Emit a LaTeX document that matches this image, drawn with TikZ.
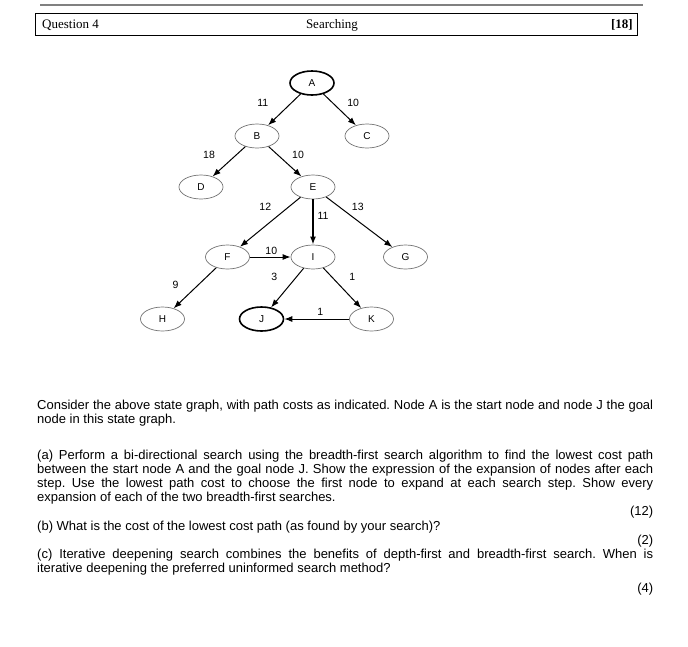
\documentclass[tikz,border=0pt]{standalone}
\usepackage{fontspec}
\usepackage{tikz}
\usetikzlibrary{shapes.geometric, arrows.meta}
\newfontfamily\arialfont{Liberation Sans}
\newfontfamily\bookfont{Liberation Serif}
\newcommand*{\statefont}{\arialfont\fontsize{10}{12}\selectfont}
\newcommand*{\costfont}{\arialfont\fontsize{10.5}{12}\selectfont}
\newcommand*{\questfont}{\arialfont\fontsize{13}{14.2}\selectfont\frenchspacing}

\begin{document}
\begin{tikzpicture}
[
    x = 1pt, y = -1pt,
    level 1/.style={sibling distance=110pt, level distance=53pt},
    level 2/.style={sibling distance=112pt, level distance=51pt},
    level 3/.style={sibling distance=89pt, level distance=70pt},
    level 4/.style={level distance=62pt},
    state/.style={ellipse, draw=black!55, line width=0.7pt, minimum width=44pt, minimum height=24pt, inner sep=0pt, font=\statefont},
    goal/.style={state, draw=black, line width=1.6pt},
    arrow/.style={draw, -{Latex[length=8pt, width=6pt]}, line width=1pt},
    cost/.style={font=\costfont, inner sep=1pt},
    edge from parent/.style={arrow},
    head/.style={font=\bookfont\fontsize{13}{15}\selectfont, inner sep=0pt},
    qtext/.style={anchor=north west, text width=616pt, align=justify, inner sep=0pt, font=\questfont},
]
\useasboundingbox (0,0) rectangle (688,646);

% header of the question
\draw[black!50, line width=1.5pt] (40,5) -- (643,5);
\draw[line width=0.8pt] (35,13) rectangle (637,35);
\node[head, anchor=base west] (qnum) at (42,28) {Question 4};
\node[head, anchor=base] (topic) at (332,28) {Searching};
\node[head, anchor=base east] (marks) at (633,28) {\bfseries [18]};

% the state graph
\node[goal] (A) at (312,83) {A}
	child {node[state] (B) {B}
		child {node[state] (D) {D}
		edge from parent node[cost, xshift=-20pt, yshift=6.5pt] {18}
			}
		child {node[state] (E) {E}
			child[xshift=3.5pt] {node[state] (F) {F} [sibling distance=130pt]
				child {node[state] (H) {H}
				edge from parent node[cost, xshift=-19.5pt, yshift=3pt] {9}
					}
				child[missing]
			edge from parent node[cost, xshift=-5pt, yshift=15pt] {12}
				}
			child {node[state] (I) {I} [sibling distance=110pt]
				child[xshift=3.5pt] {node[goal] (J) {J}
				edge from parent node[cost, xshift=-13pt, yshift=11pt] {3}
					}
				child[xshift=3.5pt] {node[state] (K) {K}
				edge from parent node[cost, xshift=10pt, yshift=11pt] {1}
					}
			edge from parent[line width=1.6pt] node[cost, xshift=10pt, yshift=6pt] {11}
				}
			child[xshift=3.5pt] {node[state] (G) {G}
			edge from parent node[cost, xshift=-1.5pt, yshift=15pt] {13}
				}
		edge from parent node[cost, xshift=13pt, yshift=6.5pt] {10}
			}
	edge from parent node[cost, xshift=-21.5pt, yshift=6.5pt] {11}
	}
	child {node[state] (C) {C}
	edge from parent node[cost, xshift=13.5pt, yshift=6.5pt] {10}
	};
\draw[arrow] (F) -- node[cost, xshift=1pt, yshift=6pt] {10} (I);
\draw[arrow] (K) -- node[cost, xshift=3.5pt, yshift=7pt] {1} (J);

% question text
\node[qtext] (question) at (37,400) {%
Consider the above state graph, with path costs as indicated. Node A is the start node and node J the goal\linebreak
node in this state graph.\\[21pt]
(a) Perform a bi-directional search using the breadth-first search algorithm to find the lowest cost path\linebreak
between the start node A and the goal node J. Show the expression of the expansion of nodes after each\linebreak
step. Use the lowest path cost to choose the first node to expand at each search step. Show every\linebreak
expansion of each of the two breadth-first searches.\\
\null\hfill(12)\\
(b) What is the cost of the lowest cost path (as found by your search)?\\
\null\hfill(2)\\
(c) Iterative deepening search combines the benefits of depth-first and breadth-first search. When is\linebreak
iterative deepening the preferred uninformed search method?\\[6pt]
\null\hfill(4)};
\end{tikzpicture}
\end{document}
